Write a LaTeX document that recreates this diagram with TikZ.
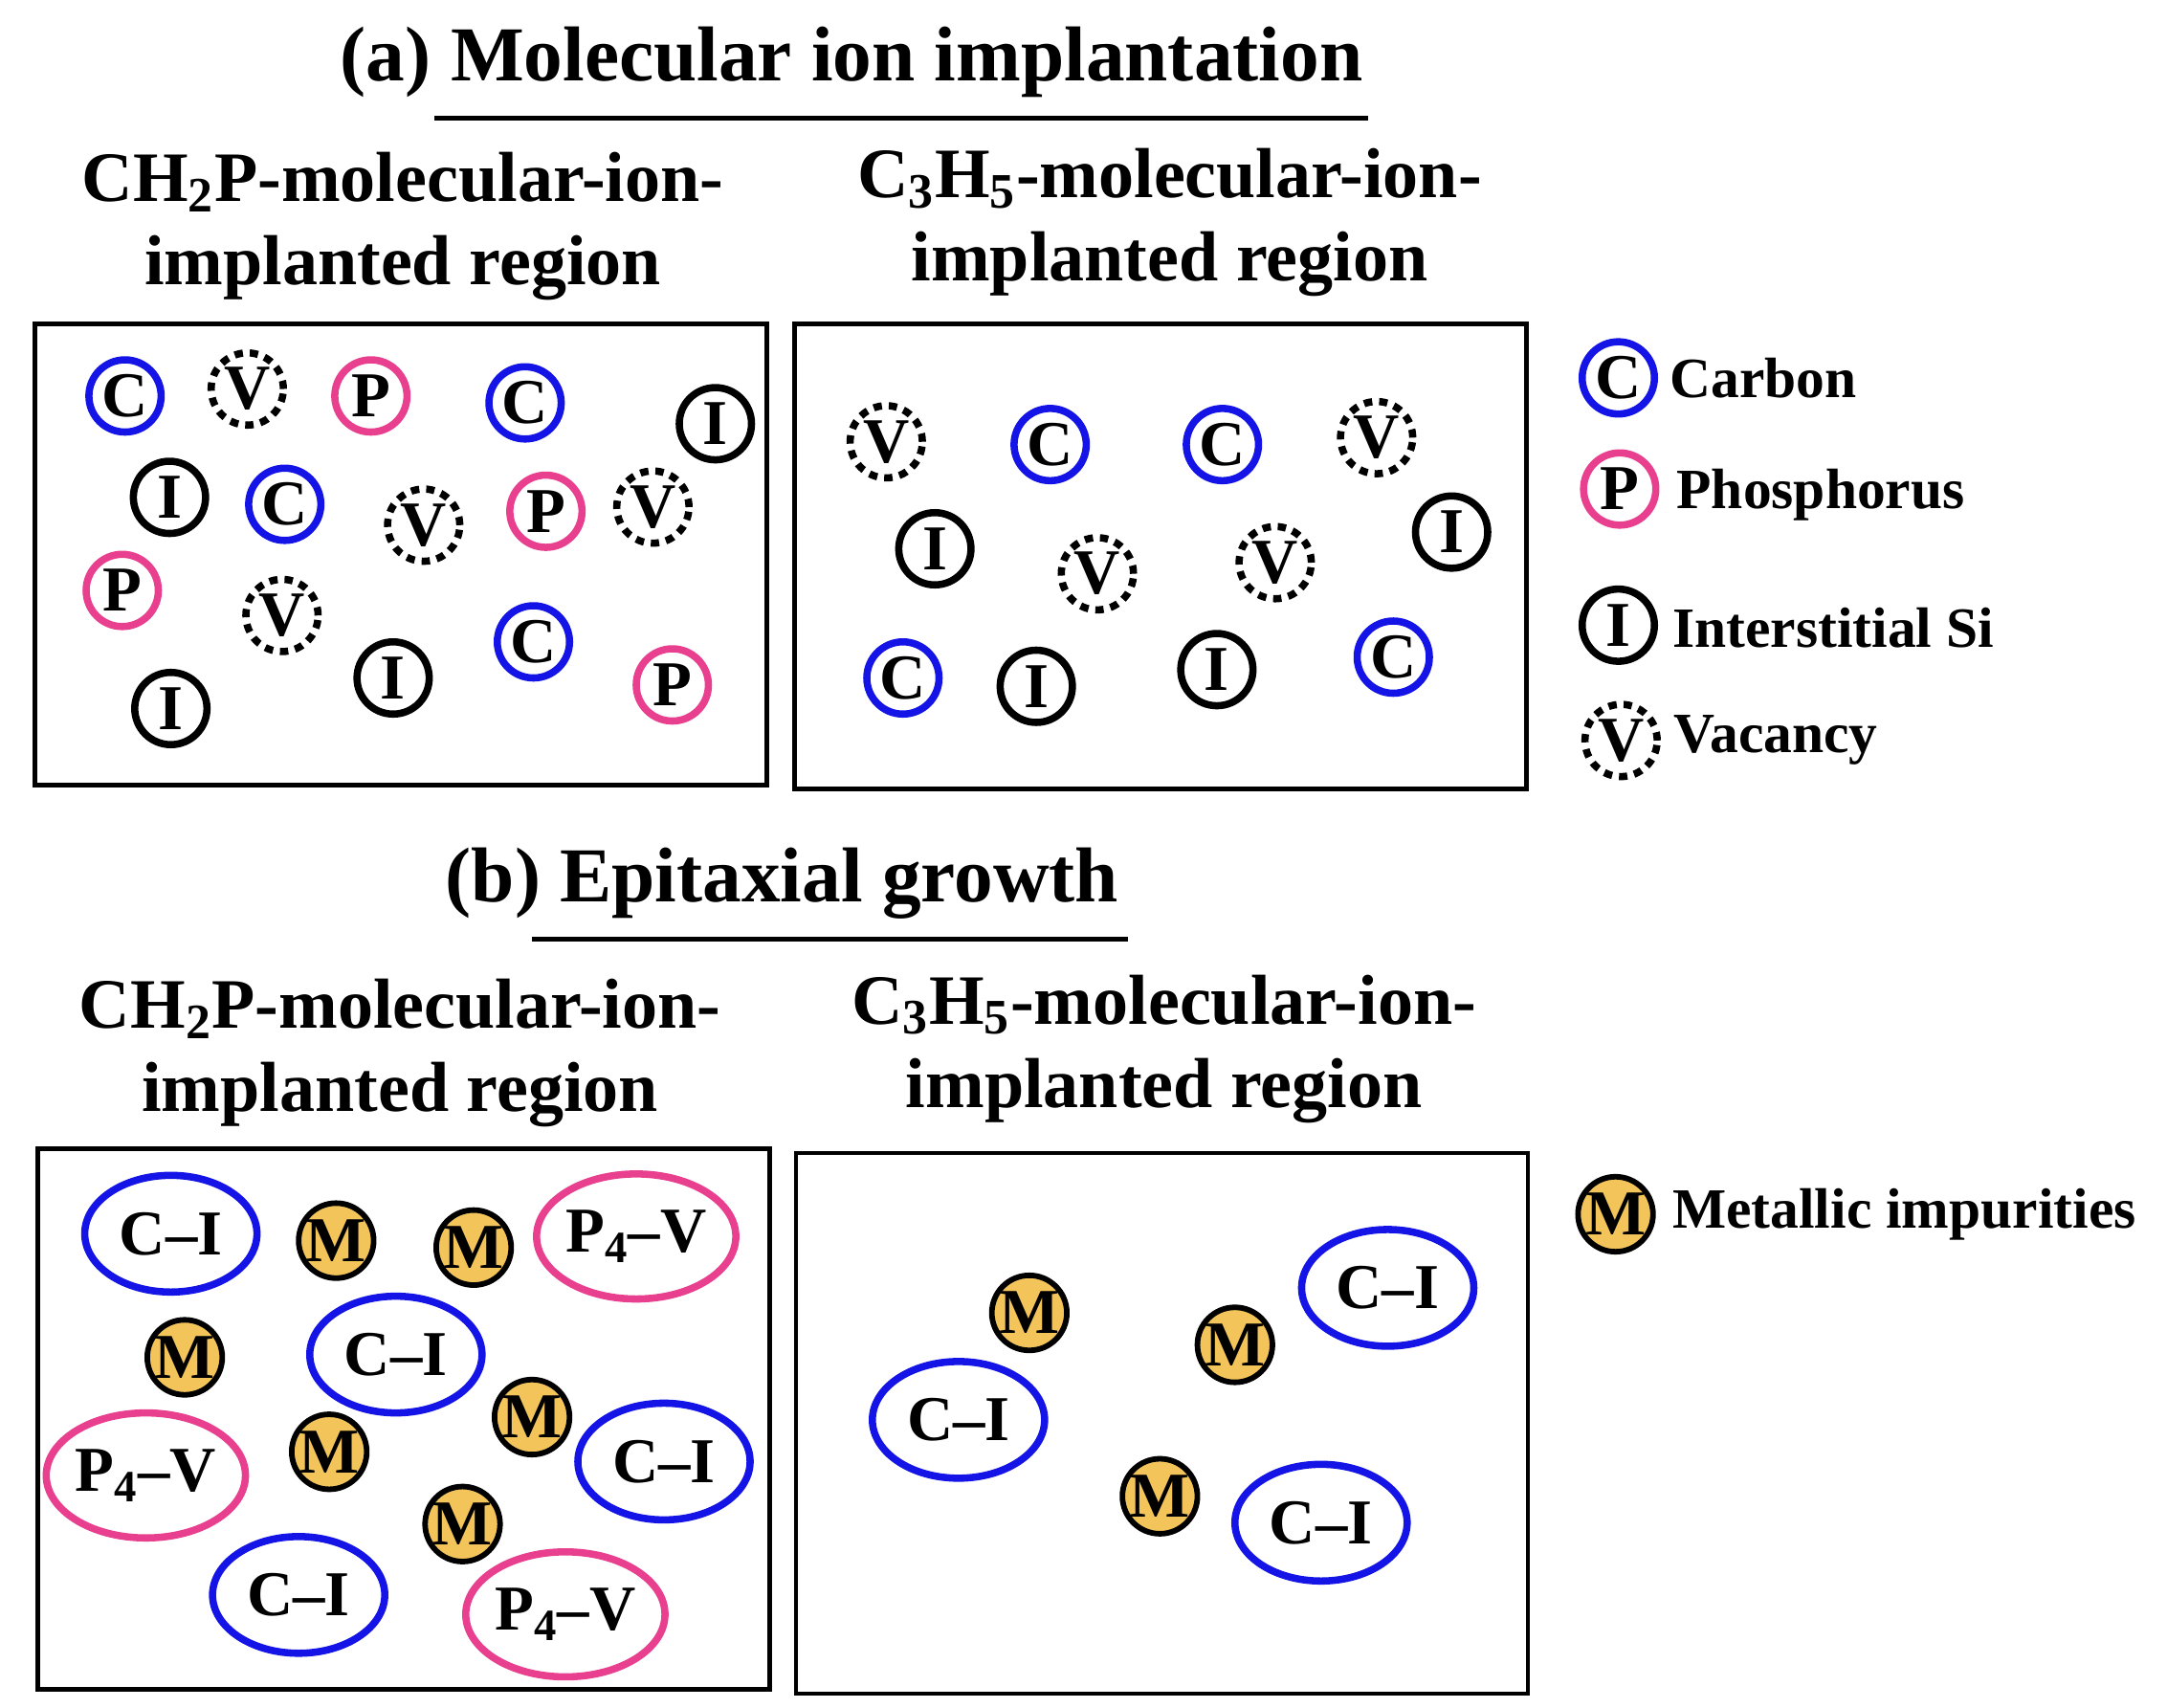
\documentclass[tikz,border=0pt]{standalone}
\usepackage{fontspec}
\setmainfont{Liberation Serif}
\usetikzlibrary{shapes.geometric}
\definecolor{cb}{HTML}{1414E6}
\definecolor{cp}{HTML}{E8408E}
\definecolor{cm}{HTML}{F2C45A}
\begin{document}
\begin{tikzpicture}[x=0.5pt,y=-0.5pt,
 atm/.style={circle,draw,line width=2.6pt,minimum size=26pt,inner sep=0pt,font=\fontsize{23}{23}\selectfont\bfseries},
 C/.style={atm,draw=cb}, P/.style={atm,draw=cp}, I/.style={atm,draw=black},
 V/.style={atm,draw=black,dash pattern=on 3pt off 2.5pt},
 M/.style={atm,fill=cm,line width=2pt,minimum size=27pt},
 el/.style={ellipse,draw,line width=2.6pt,inner sep=0pt,font=\fontsize{23}{23}\selectfont\bfseries},
 CI/.style={el,draw=cb,minimum width=62pt,minimum height=42pt},
 PV/.style={el,draw=cp,minimum width=70pt,minimum height=45pt},
 box/.style={draw,line width=1.6pt},
 ttl/.style={font=\fontsize{28}{28}\selectfont\bfseries},
 sub/.style={font=\fontsize{25.5}{30}\selectfont\bfseries,align=center},
 leg/.style={font=\fontsize{20.5}{20}\selectfont\bfseries,anchor=west}]
\useasboundingbox (0,0) rectangle (1560,1229);
% titles
\node[ttl] (ta) at (613,45) {(a) Molecular ion implantation};
\coordinate (ua1) at (313,85); \coordinate (ua2) at (985,85);
\draw[line width=1.5pt] (ua1) -- (ua2);
\node[ttl] (tb) at (563,636) {(b) Epitaxial growth};
\coordinate (ub1) at (383,676); \coordinate (ub2) at (812,676);
\draw[line width=1.5pt] (ub1) -- (ub2);
\node[sub] (s1) at (290,163) {CH\textsubscript{2}P-molecular-ion-\\implanted region};
\node[sub] (s2) at (842,160) {C\textsubscript{3}H\textsubscript{5}-molecular-ion-\\implanted region};
\node[sub] (s3) at (288,758) {CH\textsubscript{2}P-molecular-ion-\\implanted region};
\node[sub] (s4) at (838,755) {C\textsubscript{3}H\textsubscript{5}-molecular-ion-\\implanted region};
% boxes
\draw[box] (25,233) rectangle (552,565);
\draw[box] (572,233) rectangle (1099,568);
\draw[box] (27,827) rectangle (554,1216);
\draw[box] (573,830) rectangle (1100,1219);
% (a) left
\node[C] (a1) at (90,285) {C};
\node[V] (a2) at (178,280) {V};
\node[P] (a3) at (267,285) {P};
\node[C] (a4) at (378,290) {C};
\node[I] (a5) at (515,305) {I};
\node[I] (a6) at (122,358) {I};
\node[C] (a7) at (205,363) {C};
\node[V] (a8) at (305,378) {V};
\node[P] (a9) at (393,368) {P};
\node[V] (a10) at (470,365) {V};
\node[P] (a11) at (88,425) {P};
\node[V] (a12) at (203,443) {V};
\node[I] (a13) at (283,488) {I};
\node[C] (a14) at (384,462) {C};
\node[P] (a15) at (484,493) {P};
\node[I] (a16) at (123,510) {I};
% (a) right
\node[V] (b1) at (638,318) {V};
\node[C] (b2) at (756,320) {C};
\node[C] (b3) at (880,320) {C};
\node[V] (b4) at (991,315) {V};
\node[I] (b5) at (673,395) {I};
\node[V] (b6) at (790,413) {V};
\node[V] (b7) at (918,405) {V};
\node[I] (b8) at (1045,383) {I};
\node[C] (b9) at (650,488) {C};
\node[I] (b10) at (746,494) {I};
\node[I] (b11) at (876,482) {I};
\node[C] (b12) at (1003,473) {C};
% legend
\node[C] (l1) at (1165,272) {C}; \node[leg] (lt1) at (1195,272) {Carbon};
\node[P] (l2) at (1166,352) {P}; \node[leg] (lt2) at (1200,356) {Phosphorus};
\node[I] (l3) at (1165,450) {I}; \node[leg] (lt3) at (1197,452) {Interstitial Si};
\node[V] (l4) at (1167,533) {V}; \node[leg] (lt4) at (1198,533) {Vacancy};
\node[M] (l5) at (1163,874) {M}; \node[leg] (lt5) at (1197,874) {Metallic impurities};
% (b) left
\node[CI] (c1) at (123,888) {C--I};
\node[M] (c2) at (242,893) {M};
\node[M] (c3) at (341,898) {M};
\node[PV] (c4) at (458,890) {P\textsubscript{4}--V};
\node[M] (c5) at (133,977) {M};
\node[CI] (c6) at (285,975) {C--I};
\node[M] (c7) at (383,1020) {M};
\node[PV] (c8) at (105,1062) {P\textsubscript{4}--V};
\node[M] (c9) at (237,1045) {M};
\node[CI] (c10) at (478,1052) {C--I};
\node[M] (c11) at (333,1097) {M};
\node[CI] (c12) at (215,1148) {C--I};
\node[PV] (c13) at (407,1162) {P\textsubscript{4}--V};
% (b) right
\node[M] (d1) at (741,945) {M};
\node[M] (d2) at (889,968) {M};
\node[CI] (d3) at (999,927) {C--I};
\node[CI] (d4) at (690,1022) {C--I};
\node[M] (d5) at (835,1077) {M};
\node[CI] (d6) at (951,1096) {C--I};
\end{tikzpicture}
\end{document}
